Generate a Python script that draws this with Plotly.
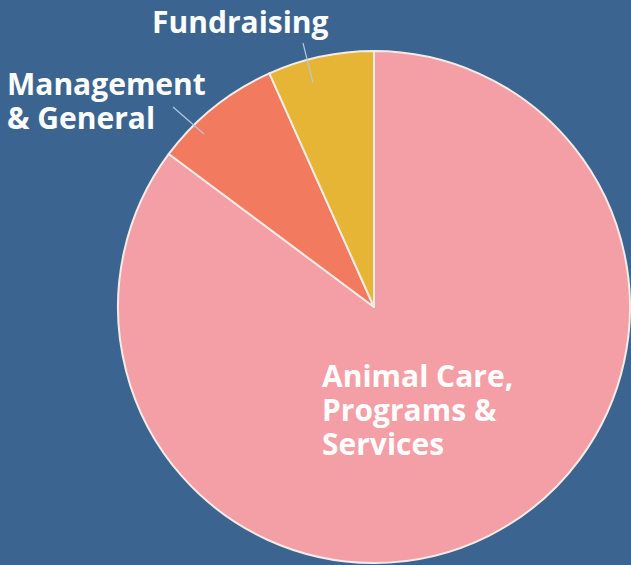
import plotly.graph_objects as go

categories = ["Animal Care, Programs & Services", "Management & General", "Fundraising"]
values = [85.2, 8.1, 6.7]
colors = ["#F49EA6", "#F27A5E", "#E6B535"]
label_lines = [
    ["Fundraising"],
    ["Management", "& General"],
    ["Animal Care,", "Programs &", "Services"],
]

W, H = 631, 565
BG = "#3B6590"
ML, MR, MT, MB = 118, 1, 51, 2
PW, PH = W - ML - MR, H - MT - MB

fig = go.Figure(go.Pie(
    labels=categories,
    values=values,
    sort=False,
    direction="clockwise",
    rotation=0,
    marker=dict(colors=colors, line=dict(color="#F3ECE6", width=2)),
    textinfo="none",
    hoverinfo="label+percent",
    showlegend=False,
))

def px(x):
    return (x - ML) / PW

def py(y):
    return (H - MB - y) / PH

font = dict(family="Open Sans, sans-serif", size=26, color="white")
positions = [(150, 21), (5, 100), (320, 409)]

annotations = []
for lines, (x, y) in zip(label_lines, positions):
    text = "<br>".join('<span style="font-size:30px"><b>%s</b></span>' % l for l in lines)
    annotations.append(dict(text=text, x=px(x), y=py(y), xref="paper", yref="paper",
                            xanchor="left", yanchor="middle", align="left",
                            showarrow=False, font=font))

line_style = dict(color="#B4C8DC", width=1.2)
shapes = [
    dict(type="line", xref="paper", yref="paper", x0=px(303), y0=py(43), x1=px(313), y1=py(83), line=line_style),
    dict(type="line", xref="paper", yref="paper", x0=px(173), y0=py(107), x1=px(204), y1=py(134), line=line_style),
]

fig.update_layout(
    width=W, height=H,
    paper_bgcolor=BG, plot_bgcolor=BG,
    margin=dict(l=ML, r=MR, t=MT, b=MB),
    annotations=annotations,
    shapes=shapes,
)

fig.write_html(
    "out.html",
    config={"displayModeBar": False},
    post_script="document.body.style.margin='0px';document.body.style.background='%s';" % BG,
)
